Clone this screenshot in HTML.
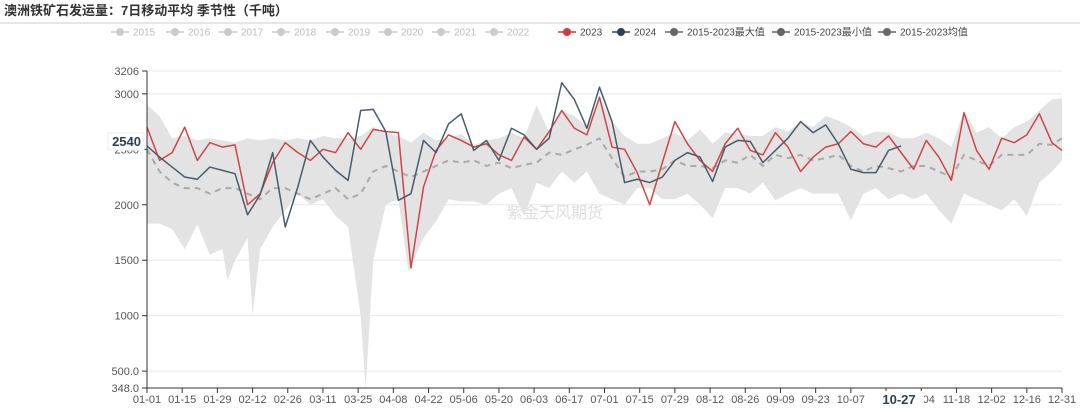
<!DOCTYPE html>
<html><head><meta charset="utf-8">
<style>
html,body{margin:0;padding:0;background:#fff;}
body{width:1080px;height:406px;overflow:hidden;font-family:"Liberation Sans","Noto Sans CJK SC",sans-serif;}
svg text{font-family:"Liberation Sans","Noto Sans CJK SC",sans-serif;}
</style></head>
<body>
<svg id="chart" width="1080" height="406" xmlns="http://www.w3.org/2000/svg">
<text x="4" y="15" font-size="13" font-weight="bold" fill="#333">澳洲铁矿石发运量：7日移动平均 季节性（千吨）</text>
<line x1="0" y1="23" x2="1080" y2="23" stroke="#ccc" stroke-width="1"/>
<g id="legend"></g>
<g id="grid"></g>
<text x="555" y="218" font-size="16" fill="#ddd" text-anchor="middle">紫金天风期货</text>
<g id="band"></g>
<g id="lines"></g>
<g id="axes"></g>
</svg>
<script>
const yTicks=[348,500,1000,1500,2000,2500,3000,3206];
const yTickLabels=["348.0","500.0","1000","1500","2000","2500","3000","3206"];
const xTickLabels=["01-01","01-15","01-29","02-12","02-26","03-11","03-25","04-08","04-22","05-06","05-20","06-03","06-17","07-01","07-15","07-29","08-12","08-26","09-09","09-23","10-07","10-21","11-04","11-18","12-02","12-16","12-31"];
const days=[0,5,10,15,20,25,30,35,40,45,50,55,60,65,70,75,80,85,90,95,100,105,110,115,120,125,130,135,140,145,150,155,160,165,170,175,180,185,190,195,200,205,210,215,220,225,230,235,240,245,250,255,260,265,270,275,280,285,290,295,300,305,310,315,320,325,330,335,340,345,350,355,360,364];
const s2023=[2700,2400,2470,2700,2400,2560,2520,2540,2000,2100,2380,2560,2470,2400,2500,2470,2650,2500,2680,2660,2650,1430,2160,2490,2630,2580,2520,2550,2450,2400,2610,2500,2660,2850,2690,2630,2970,2520,2500,2290,2000,2380,2750,2550,2400,2300,2550,2690,2490,2450,2650,2520,2300,2430,2520,2550,2660,2550,2520,2620,2470,2320,2580,2430,2220,2830,2490,2320,2600,2560,2630,2820,2560,2490];
const s2024=[2530,2430,2340,2250,2230,2340,2310,2280,1910,2090,2470,1800,2160,2580,2430,2310,2220,2850,2860,2660,2040,2100,2580,2470,2730,2820,2490,2580,2400,2690,2630,2500,2600,3100,2950,2690,3060,2750,2200,2230,2200,2250,2400,2470,2430,2210,2520,2580,2570,2380,2490,2600,2750,2650,2720,2550,2320,2290,2290,2490,2530];
const sMax=[2900,2800,2600,2620,2580,2600,2580,2560,2600,2580,2600,2580,2600,2580,2620,2600,2600,2620,2700,2650,2620,2560,2650,2580,2600,2640,2540,2580,2600,2650,2600,2900,2650,2850,2800,2700,2970,2750,2620,2550,2550,2600,2650,2580,2680,2550,2650,2640,2620,2620,2700,2660,2750,2700,2800,2760,2700,2620,2660,2650,2600,2600,2650,2600,2520,2850,2650,2700,2600,2700,2750,2850,2950,2960];
const sMean=[2500,2300,2200,2150,2150,2100,2150,2150,2100,2050,2150,2150,2100,2050,2100,2150,2050,2100,2300,2350,2300,2250,2300,2350,2400,2380,2400,2350,2380,2330,2360,2380,2470,2450,2500,2540,2600,2420,2250,2300,2300,2320,2400,2350,2350,2330,2400,2380,2450,2350,2450,2420,2450,2400,2420,2450,2350,2300,2350,2330,2300,2350,2350,2300,2250,2450,2400,2350,2450,2450,2450,2550,2540,2600];
const minDays=[0,5,10,15,20,25,30,32,35,40,42,45,50,55,60,65,70,75,80,85,87,90,95,100,104,110,115,120,125,130,135,140,145,150,155,160,165,170,175,180,185,190,195,200,205,210,215,220,225,230,235,240,245,250,255,260,265,270,275,280,285,290,295,300,305,310,315,320,325,330,335,340,345,350,355,360,364];
const sMin=[1830,1830,1780,1600,1820,1550,1600,1320,1500,1700,1000,1600,1800,1950,2100,2000,2050,1900,1800,1000,348,1500,2000,2050,1400,1700,1850,2050,2030,2030,2000,2100,2150,1900,2200,2150,2300,2200,2300,2100,2050,2000,2150,2150,2050,2050,2100,2000,1880,2150,2150,2100,2200,2040,2100,2150,2100,2100,2100,1860,2100,2150,2050,2100,2050,2100,1950,1830,2100,2050,2000,1950,2050,1900,2200,2300,2400];
const legendItems=[["2015",120,"#ccc","#bbb"],["2016",175,"#ccc","#bbb"],["2017",228,"#ccc","#bbb"],["2018",281,"#ccc","#bbb"],["2019",335,"#ccc","#bbb"],["2020",388,"#ccc","#bbb"],["2021",441,"#ccc","#bbb"],["2022",494,"#ccc","#bbb"],["2023",567,"#d0393b","#444"],["2024",621,"#2d4154","#444"],["2015-2023最大值",674,"#666","#444"],["2015-2023最小值",781,"#666","#444"],["2015-2023均值",887,"#666","#444"]];

const NS="http://www.w3.org/2000/svg";
const X0=147,X1=1062,Y0=388,Y1=71,VMIN=348,VMAX=3206;
const xs=d=>X0+(X1-X0)*d/364;
const ys=v=>Y0-(Y0-Y1)*(v-VMIN)/(VMAX-VMIN);
function mk(tag,parent,attrs){const e=document.createElementNS(NS,tag);for(const k in attrs)e.setAttribute(k,attrs[k]);document.getElementById(parent).appendChild(e);return e;}

legendItems.forEach(it=>{
  const g=mk('g','legend',{});
  
  
  const l=document.createElementNS(NS,'line');l.setAttribute('x1',it[1]-9);l.setAttribute('x2',it[1]+9);l.setAttribute('y1',32);l.setAttribute('y2',32);l.setAttribute('stroke',it[2]);l.setAttribute('stroke-width',1.5);g.appendChild(l);
  const c=document.createElementNS(NS,'circle');c.setAttribute('cx',it[1]);c.setAttribute('cy',32);c.setAttribute('r',4);c.setAttribute('fill',it[2]);g.appendChild(c);
  const t=document.createElementNS(NS,'text');t.setAttribute('x',it[1]+13);t.setAttribute('y',35.5);t.setAttribute('font-size',10);t.setAttribute('fill',it[3]);t.textContent=it[0];g.appendChild(t);
});

yTicks.forEach((v,i)=>{
  const gl=mk('line','grid',{x1:X0,x2:X1,y1:ys(v),y2:ys(v),stroke:'#e8e8e8','stroke-width':1});
  
  
  const tk=mk('line','axes',{x1:X0-5,x2:X0,y1:ys(v),y2:ys(v),stroke:'#333'});
  
  
  const t=mk('text','axes',{x:X0-8,y:ys(v)+4,'font-size':11,fill:'#555','text-anchor':'end'});
  
  
  t.textContent=yTickLabels[i];
});

let pts=days.map((d,i)=>xs(d)+','+ys(sMax[i]));
for(let i=minDays.length-1;i>=0;i--)pts.push(xs(minDays[i])+','+ys(sMin[i]));
const band=mk('polygon','band',{points:pts.join(' '),fill:'#e3e3e3',stroke:'none'});



function line(arr,color,w,dash,name){
  const p=arr.map((v,i)=>xs(days[i])+','+ys(v)).join(' ');
  const e=mk('polyline','lines',{points:p,fill:'none',stroke:color,'stroke-width':w,'stroke-linejoin':'round'});
  if(dash)e.setAttribute('stroke-dasharray',dash);
  
  
}
line(sMean,'#aaa',2,'6,5','mean-line');
line(s2023,'#d04546',1.5,null,'series-2023');
line(s2024,'#4a5b6b',1.5,null,'series-2024');

const ax=mk('line','axes',{x1:X0,x2:X0,y1:Y1,y2:Y0,stroke:'#333'});


const bx=mk('line','axes',{x1:X0,x2:X1,y1:Y0,y2:Y0,stroke:'#333'});


xTickLabels.forEach((lab,i)=>{
  const d=i===26?364:i*14;
  const tk=mk('line','axes',{x1:xs(d),x2:xs(d),y1:Y0,y2:Y0+5,stroke:'#333'});
  
  
  const t=mk('text','axes',{x:xs(d),y:Y0+15,'font-size':11,fill:'#555','text-anchor':'middle'});
  
  
  t.textContent=lab;
});
const xb=mk('rect','axes',{x:869,y:391,width:55,height:15,fill:'#fff'});


const xl=mk('text','axes',{x:899,y:404,'font-size':13,'font-weight':'bold',fill:'#2d4154','text-anchor':'middle'});


xl.textContent='10-27';
const yb=mk('rect','axes',{x:108,y:133,width:36,height:17,fill:'#fff',stroke:'#eee'});


const yl=mk('text','axes',{x:141,y:146,'font-size':13,'font-weight':'bold',fill:'#2d4154','text-anchor':'end'});


yl.textContent='2540';
</script>
</body></html>
